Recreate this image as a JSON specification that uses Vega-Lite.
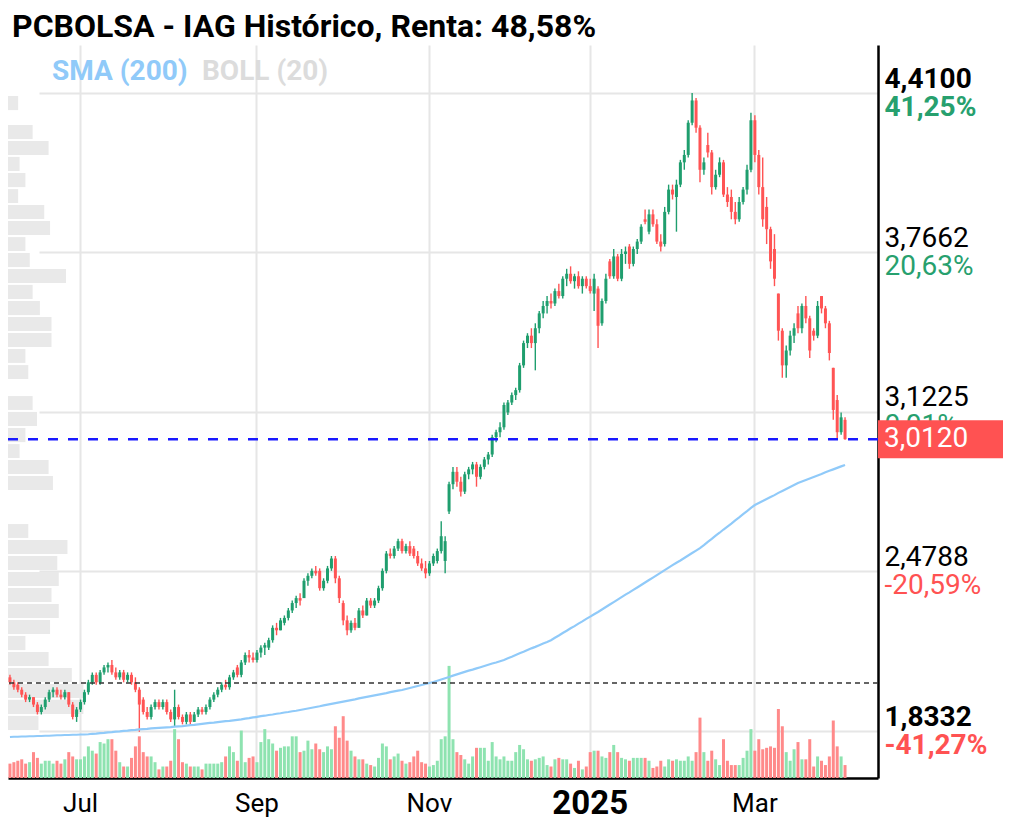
{
"$schema": "https://vega.github.io/schema/vega-lite/v6.json",
"width": 870,
"height": 733,
"autosize": {"type": "none"},
"padding": {"left": 8, "top": 45, "right": 142, "bottom": 55},
"background": "white",
"title": {"text": "PCBOLSA - IAG Histórico, Renta: 48,58%", "anchor": "start", "frame": "group", "font": "Roboto", "fontSize": 32, "fontWeight": "bold", "color": "#000000", "offset": 1, "dx": 4},
"config": {"view": {"stroke": null}, "font": "Roboto", "axis": {"labelFont": "Roboto"}},
"datasets": {
"ohlc": [
{"d":"2024-06-05","o":2.05,"h":2.06,"l":2.02,"c":2.03,"v":10,"s":1.809},
{"d":"2024-06-06","o":2.03,"h":2.04,"l":2.00,"c":2.01,"v":11,"s":1.810},
{"d":"2024-06-07","o":2.02,"h":2.03,"l":1.99,"c":2.00,"v":12,"s":1.810},
{"d":"2024-06-10","o":2.00,"h":2.01,"l":1.97,"c":1.98,"v":13,"s":1.811},
{"d":"2024-06-11","o":1.98,"h":1.99,"l":1.95,"c":1.96,"v":10,"s":1.811},
{"d":"2024-06-12","o":1.96,"h":1.98,"l":1.95,"c":1.97,"v":11,"s":1.812},
{"d":"2024-06-13","o":1.97,"h":1.97,"l":1.93,"c":1.94,"v":18,"s":1.812},
{"d":"2024-06-14","o":1.94,"h":1.95,"l":1.90,"c":1.91,"v":14,"s":1.813},
{"d":"2024-06-17","o":1.91,"h":1.94,"l":1.90,"c":1.93,"v":10,"s":1.813},
{"d":"2024-06-18","o":1.93,"h":1.97,"l":1.92,"c":1.96,"v":12,"s":1.814},
{"d":"2024-06-19","o":1.96,"h":2.00,"l":1.95,"c":1.99,"v":12,"s":1.814},
{"d":"2024-06-20","o":1.99,"h":2.01,"l":1.97,"c":2.00,"v":10,"s":1.815},
{"d":"2024-06-21","o":2.00,"h":2.01,"l":1.97,"c":1.98,"v":12,"s":1.816},
{"d":"2024-06-24","o":1.98,"h":2.00,"l":1.96,"c":1.97,"v":10,"s":1.816},
{"d":"2024-06-25","o":1.97,"h":2.00,"l":1.96,"c":1.99,"v":13,"s":1.817},
{"d":"2024-06-26","o":1.99,"h":1.99,"l":1.93,"c":1.94,"v":18,"s":1.817},
{"d":"2024-06-27","o":1.94,"h":1.95,"l":1.88,"c":1.89,"v":15,"s":1.818},
{"d":"2024-06-28","o":1.89,"h":1.93,"l":1.87,"c":1.92,"v":13,"s":1.818},
{"d":"2024-07-01","o":1.92,"h":1.96,"l":1.91,"c":1.95,"v":13,"s":1.819},
{"d":"2024-07-02","o":1.95,"h":2.00,"l":1.94,"c":1.99,"v":15,"s":1.819},
{"d":"2024-07-03","o":1.99,"h":2.04,"l":1.98,"c":2.03,"v":22,"s":1.820},
{"d":"2024-07-04","o":2.03,"h":2.07,"l":2.02,"c":2.06,"v":19,"s":1.822},
{"d":"2024-07-05","o":2.06,"h":2.07,"l":2.02,"c":2.03,"v":17,"s":1.823},
{"d":"2024-07-08","o":2.03,"h":2.08,"l":2.02,"c":2.07,"v":25,"s":1.825},
{"d":"2024-07-09","o":2.07,"h":2.10,"l":2.06,"c":2.09,"v":24,"s":1.826},
{"d":"2024-07-10","o":2.09,"h":2.11,"l":2.07,"c":2.10,"v":27,"s":1.828},
{"d":"2024-07-11","o":2.10,"h":2.12,"l":2.06,"c":2.07,"v":27,"s":1.829},
{"d":"2024-07-12","o":2.07,"h":2.09,"l":2.04,"c":2.05,"v":19,"s":1.831},
{"d":"2024-07-15","o":2.05,"h":2.08,"l":2.04,"c":2.07,"v":11,"s":1.832},
{"d":"2024-07-16","o":2.07,"h":2.08,"l":2.03,"c":2.04,"v":8,"s":1.834},
{"d":"2024-07-17","o":2.04,"h":2.07,"l":2.03,"c":2.06,"v":8,"s":1.835},
{"d":"2024-07-18","o":2.06,"h":2.07,"l":2.02,"c":2.03,"v":14,"s":1.837},
{"d":"2024-07-19","o":2.03,"h":2.05,"l":1.99,"c":2.00,"v":22,"s":1.838},
{"d":"2024-07-22","o":2.00,"h":2.01,"l":1.83,"c":1.94,"v":29,"s":1.840},
{"d":"2024-07-23","o":1.96,"h":1.97,"l":1.90,"c":1.91,"v":18,"s":1.841},
{"d":"2024-07-24","o":1.91,"h":1.93,"l":1.88,"c":1.89,"v":15,"s":1.842},
{"d":"2024-07-25","o":1.89,"h":1.94,"l":1.88,"c":1.93,"v":15,"s":1.844},
{"d":"2024-07-26","o":1.93,"h":1.96,"l":1.92,"c":1.95,"v":11,"s":1.845},
{"d":"2024-07-29","o":1.95,"h":1.96,"l":1.92,"c":1.93,"v":6,"s":1.846},
{"d":"2024-07-30","o":1.93,"h":1.96,"l":1.92,"c":1.95,"v":8,"s":1.847},
{"d":"2024-07-31","o":1.95,"h":1.96,"l":1.90,"c":1.91,"v":8,"s":1.848},
{"d":"2024-08-01","o":1.91,"h":1.92,"l":1.87,"c":1.88,"v":12,"s":1.849},
{"d":"2024-08-02","o":1.88,"h":2.00,"l":1.85,"c":1.93,"v":34,"s":1.851},
{"d":"2024-08-05","o":1.93,"h":1.94,"l":1.88,"c":1.89,"v":27,"s":1.852},
{"d":"2024-08-06","o":1.89,"h":1.90,"l":1.86,"c":1.87,"v":11,"s":1.853},
{"d":"2024-08-07","o":1.87,"h":1.91,"l":1.86,"c":1.90,"v":10,"s":1.855},
{"d":"2024-08-08","o":1.90,"h":1.91,"l":1.86,"c":1.87,"v":8,"s":1.857},
{"d":"2024-08-09","o":1.87,"h":1.91,"l":1.87,"c":1.90,"v":8,"s":1.858},
{"d":"2024-08-12","o":1.90,"h":1.93,"l":1.89,"c":1.92,"v":8,"s":1.860},
{"d":"2024-08-13","o":1.92,"h":1.93,"l":1.90,"c":1.91,"v":6,"s":1.862},
{"d":"2024-08-14","o":1.91,"h":1.94,"l":1.90,"c":1.93,"v":10,"s":1.864},
{"d":"2024-08-15","o":1.93,"h":1.97,"l":1.92,"c":1.96,"v":10,"s":1.866},
{"d":"2024-08-16","o":1.96,"h":1.99,"l":1.95,"c":1.98,"v":10,"s":1.867},
{"d":"2024-08-19","o":1.98,"h":2.01,"l":1.97,"c":2.00,"v":10,"s":1.869},
{"d":"2024-08-20","o":2.00,"h":2.03,"l":1.99,"c":2.02,"v":11,"s":1.871},
{"d":"2024-08-21","o":2.02,"h":2.04,"l":2.00,"c":2.01,"v":15,"s":1.873},
{"d":"2024-08-22","o":2.01,"h":2.06,"l":2.00,"c":2.05,"v":22,"s":1.874},
{"d":"2024-08-23","o":2.05,"h":2.08,"l":2.04,"c":2.07,"v":18,"s":1.876},
{"d":"2024-08-26","o":2.09,"h":2.10,"l":2.05,"c":2.06,"v":12,"s":1.878},
{"d":"2024-08-27","o":2.06,"h":2.12,"l":2.05,"c":2.11,"v":33,"s":1.880},
{"d":"2024-08-28","o":2.11,"h":2.15,"l":2.10,"c":2.14,"v":11,"s":1.883},
{"d":"2024-08-29","o":2.14,"h":2.16,"l":2.11,"c":2.13,"v":14,"s":1.885},
{"d":"2024-08-30","o":2.13,"h":2.15,"l":2.11,"c":2.12,"v":15,"s":1.888},
{"d":"2024-09-02","o":2.12,"h":2.16,"l":2.11,"c":2.15,"v":11,"s":1.890},
{"d":"2024-09-03","o":2.15,"h":2.18,"l":2.13,"c":2.17,"v":25,"s":1.893},
{"d":"2024-09-04","o":2.17,"h":2.19,"l":2.14,"c":2.18,"v":34,"s":1.895},
{"d":"2024-09-05","o":2.17,"h":2.21,"l":2.16,"c":2.20,"v":27,"s":1.898},
{"d":"2024-09-06","o":2.20,"h":2.26,"l":2.19,"c":2.25,"v":24,"s":1.900},
{"d":"2024-09-09","o":2.25,"h":2.27,"l":2.22,"c":2.24,"v":19,"s":1.903},
{"d":"2024-09-10","o":2.24,"h":2.29,"l":2.24,"c":2.28,"v":21,"s":1.905},
{"d":"2024-09-11","o":2.27,"h":2.30,"l":2.26,"c":2.29,"v":22,"s":1.908},
{"d":"2024-09-12","o":2.29,"h":2.33,"l":2.28,"c":2.32,"v":22,"s":1.910},
{"d":"2024-09-13","o":2.32,"h":2.36,"l":2.31,"c":2.35,"v":29,"s":1.913},
{"d":"2024-09-16","o":2.35,"h":2.38,"l":2.33,"c":2.37,"v":29,"s":1.915},
{"d":"2024-09-17","o":2.37,"h":2.39,"l":2.34,"c":2.36,"v":18,"s":1.918},
{"d":"2024-09-18","o":2.37,"h":2.45,"l":2.37,"c":2.44,"v":19,"s":1.921},
{"d":"2024-09-19","o":2.44,"h":2.47,"l":2.42,"c":2.46,"v":26,"s":1.924},
{"d":"2024-09-20","o":2.46,"h":2.49,"l":2.45,"c":2.48,"v":20,"s":1.927},
{"d":"2024-09-23","o":2.48,"h":2.50,"l":2.46,"c":2.47,"v":24,"s":1.930},
{"d":"2024-09-24","o":2.48,"h":2.49,"l":2.40,"c":2.41,"v":20,"s":1.933},
{"d":"2024-09-25","o":2.41,"h":2.45,"l":2.40,"c":2.44,"v":18,"s":1.937},
{"d":"2024-09-26","o":2.44,"h":2.50,"l":2.43,"c":2.49,"v":22,"s":1.940},
{"d":"2024-09-27","o":2.49,"h":2.54,"l":2.48,"c":2.53,"v":20,"s":1.943},
{"d":"2024-09-30","o":2.53,"h":2.54,"l":2.43,"c":2.45,"v":36,"s":1.946},
{"d":"2024-10-01","o":2.45,"h":2.46,"l":2.35,"c":2.37,"v":28,"s":1.949},
{"d":"2024-10-02","o":2.35,"h":2.36,"l":2.26,"c":2.28,"v":43,"s":1.952},
{"d":"2024-10-03","o":2.28,"h":2.30,"l":2.22,"c":2.24,"v":26,"s":1.955},
{"d":"2024-10-04","o":2.24,"h":2.28,"l":2.23,"c":2.27,"v":19,"s":1.958},
{"d":"2024-10-07","o":2.27,"h":2.29,"l":2.24,"c":2.25,"v":15,"s":1.961},
{"d":"2024-10-08","o":2.25,"h":2.33,"l":2.25,"c":2.32,"v":13,"s":1.965},
{"d":"2024-10-09","o":2.32,"h":2.34,"l":2.29,"c":2.30,"v":13,"s":1.968},
{"d":"2024-10-10","o":2.30,"h":2.37,"l":2.30,"c":2.36,"v":10,"s":1.971},
{"d":"2024-10-11","o":2.36,"h":2.37,"l":2.33,"c":2.34,"v":9,"s":1.974},
{"d":"2024-10-14","o":2.34,"h":2.37,"l":2.33,"c":2.36,"v":8,"s":1.977},
{"d":"2024-10-15","o":2.36,"h":2.42,"l":2.35,"c":2.41,"v":14,"s":1.980},
{"d":"2024-10-16","o":2.41,"h":2.49,"l":2.40,"c":2.48,"v":24,"s":1.983},
{"d":"2024-10-17","o":2.48,"h":2.56,"l":2.47,"c":2.55,"v":22,"s":1.986},
{"d":"2024-10-18","o":2.55,"h":2.57,"l":2.53,"c":2.54,"v":13,"s":1.990},
{"d":"2024-10-21","o":2.54,"h":2.58,"l":2.53,"c":2.57,"v":15,"s":1.993},
{"d":"2024-10-22","o":2.57,"h":2.61,"l":2.56,"c":2.60,"v":17,"s":1.996},
{"d":"2024-10-23","o":2.60,"h":2.61,"l":2.55,"c":2.56,"v":12,"s":1.999},
{"d":"2024-10-24","o":2.56,"h":2.59,"l":2.55,"c":2.58,"v":10,"s":2.003},
{"d":"2024-10-25","o":2.58,"h":2.60,"l":2.54,"c":2.55,"v":11,"s":2.007},
{"d":"2024-10-28","o":2.57,"h":2.58,"l":2.53,"c":2.54,"v":15,"s":2.011},
{"d":"2024-10-29","o":2.54,"h":2.56,"l":2.50,"c":2.51,"v":19,"s":2.015},
{"d":"2024-10-30","o":2.51,"h":2.53,"l":2.48,"c":2.49,"v":11,"s":2.019},
{"d":"2024-10-31","o":2.49,"h":2.52,"l":2.45,"c":2.47,"v":10,"s":2.023},
{"d":"2024-11-01","o":2.47,"h":2.52,"l":2.46,"c":2.51,"v":8,"s":2.027},
{"d":"2024-11-04","o":2.51,"h":2.55,"l":2.50,"c":2.54,"v":9,"s":2.031},
{"d":"2024-11-05","o":2.52,"h":2.57,"l":2.51,"c":2.56,"v":12,"s":2.036},
{"d":"2024-11-06","o":2.56,"h":2.68,"l":2.55,"c":2.62,"v":27,"s":2.041},
{"d":"2024-11-07","o":2.52,"h":2.62,"l":2.47,"c":2.60,"v":29,"s":2.046},
{"d":"2024-11-08","o":2.72,"h":2.84,"l":2.71,"c":2.83,"v":78,"s":2.051},
{"d":"2024-11-11","o":2.83,"h":2.90,"l":2.81,"c":2.88,"v":27,"s":2.057},
{"d":"2024-11-12","o":2.88,"h":2.90,"l":2.82,"c":2.84,"v":18,"s":2.062},
{"d":"2024-11-13","o":2.84,"h":2.86,"l":2.78,"c":2.80,"v":16,"s":2.067},
{"d":"2024-11-14","o":2.80,"h":2.88,"l":2.79,"c":2.87,"v":13,"s":2.072},
{"d":"2024-11-15","o":2.87,"h":2.90,"l":2.85,"c":2.89,"v":10,"s":2.077},
{"d":"2024-11-18","o":2.89,"h":2.92,"l":2.87,"c":2.91,"v":15,"s":2.081},
{"d":"2024-11-19","o":2.91,"h":2.92,"l":2.82,"c":2.86,"v":21,"s":2.086},
{"d":"2024-11-20","o":2.86,"h":2.91,"l":2.85,"c":2.90,"v":21,"s":2.091},
{"d":"2024-11-21","o":2.90,"h":2.94,"l":2.89,"c":2.93,"v":21,"s":2.096},
{"d":"2024-11-22","o":2.93,"h":2.96,"l":2.91,"c":2.95,"v":12,"s":2.101},
{"d":"2024-11-25","o":2.95,"h":3.03,"l":2.94,"c":3.02,"v":25,"s":2.106},
{"d":"2024-11-26","o":3.02,"h":3.05,"l":3.00,"c":3.04,"v":15,"s":2.110},
{"d":"2024-11-27","o":3.04,"h":3.08,"l":3.02,"c":3.06,"v":13,"s":2.115},
{"d":"2024-11-28","o":3.06,"h":3.16,"l":3.05,"c":3.15,"v":15,"s":2.120},
{"d":"2024-11-29","o":3.12,"h":3.17,"l":3.11,"c":3.16,"v":12,"s":2.127},
{"d":"2024-12-02","o":3.16,"h":3.20,"l":3.15,"c":3.19,"v":12,"s":2.133},
{"d":"2024-12-03","o":3.19,"h":3.22,"l":3.17,"c":3.21,"v":18,"s":2.140},
{"d":"2024-12-04","o":3.21,"h":3.32,"l":3.20,"c":3.31,"v":23,"s":2.147},
{"d":"2024-12-05","o":3.31,"h":3.41,"l":3.30,"c":3.40,"v":20,"s":2.153},
{"d":"2024-12-06","o":3.40,"h":3.44,"l":3.38,"c":3.43,"v":13,"s":2.160},
{"d":"2024-12-09","o":3.43,"h":3.46,"l":3.38,"c":3.40,"v":12,"s":2.167},
{"d":"2024-12-10","o":3.40,"h":3.48,"l":3.29,"c":3.46,"v":13,"s":2.173},
{"d":"2024-12-11","o":3.46,"h":3.53,"l":3.44,"c":3.52,"v":14,"s":2.180},
{"d":"2024-12-12","o":3.52,"h":3.57,"l":3.50,"c":3.55,"v":15,"s":2.187},
{"d":"2024-12-13","o":3.55,"h":3.59,"l":3.52,"c":3.57,"v":9,"s":2.193},
{"d":"2024-12-16","o":3.57,"h":3.60,"l":3.54,"c":3.56,"v":8,"s":2.200},
{"d":"2024-12-17","o":3.56,"h":3.62,"l":3.55,"c":3.61,"v":13,"s":2.210},
{"d":"2024-12-18","o":3.61,"h":3.64,"l":3.58,"c":3.59,"v":14,"s":2.219},
{"d":"2024-12-19","o":3.59,"h":3.67,"l":3.58,"c":3.66,"v":13,"s":2.229},
{"d":"2024-12-20","o":3.66,"h":3.70,"l":3.63,"c":3.68,"v":13,"s":2.238},
{"d":"2024-12-23","o":3.68,"h":3.71,"l":3.64,"c":3.65,"v":10,"s":2.248},
{"d":"2024-12-24","o":3.65,"h":3.68,"l":3.62,"c":3.67,"v":7,"s":2.257},
{"d":"2024-12-27","o":3.67,"h":3.69,"l":3.62,"c":3.63,"v":12,"s":2.267},
{"d":"2024-12-30","o":3.63,"h":3.67,"l":3.60,"c":3.66,"v":6,"s":2.276},
{"d":"2024-12-31","o":3.66,"h":3.67,"l":3.62,"c":3.63,"v":8,"s":2.286},
{"d":"2025-01-02","o":3.63,"h":3.66,"l":3.60,"c":3.61,"v":18,"s":2.295},
{"d":"2025-01-03","o":3.60,"h":3.68,"l":3.53,"c":3.66,"v":19,"s":2.305},
{"d":"2025-01-06","o":3.62,"h":3.63,"l":3.38,"c":3.47,"v":19,"s":2.314},
{"d":"2025-01-07","o":3.48,"h":3.58,"l":3.47,"c":3.57,"v":15,"s":2.324},
{"d":"2025-01-08","o":3.57,"h":3.68,"l":3.56,"c":3.66,"v":14,"s":2.334},
{"d":"2025-01-09","o":3.73,"h":3.74,"l":3.66,"c":3.67,"v":18,"s":2.344},
{"d":"2025-01-10","o":3.67,"h":3.78,"l":3.66,"c":3.75,"v":23,"s":2.354},
{"d":"2025-01-13","o":3.75,"h":3.76,"l":3.65,"c":3.66,"v":18,"s":2.364},
{"d":"2025-01-14","o":3.66,"h":3.78,"l":3.65,"c":3.76,"v":14,"s":2.374},
{"d":"2025-01-15","o":3.76,"h":3.79,"l":3.72,"c":3.77,"v":13,"s":2.384},
{"d":"2025-01-16","o":3.79,"h":3.80,"l":3.70,"c":3.72,"v":12,"s":2.393},
{"d":"2025-01-17","o":3.72,"h":3.79,"l":3.71,"c":3.78,"v":14,"s":2.403},
{"d":"2025-01-20","o":3.78,"h":3.82,"l":3.76,"c":3.81,"v":14,"s":2.413},
{"d":"2025-01-21","o":3.81,"h":3.88,"l":3.80,"c":3.87,"v":14,"s":2.423},
{"d":"2025-01-22","o":3.90,"h":3.94,"l":3.88,"c":3.89,"v":14,"s":2.433},
{"d":"2025-01-23","o":3.85,"h":3.94,"l":3.84,"c":3.92,"v":12,"s":2.443},
{"d":"2025-01-24","o":3.92,"h":3.94,"l":3.87,"c":3.88,"v":7,"s":2.453},
{"d":"2025-01-27","o":3.88,"h":3.90,"l":3.80,"c":3.81,"v":8,"s":2.463},
{"d":"2025-01-28","o":3.81,"h":3.84,"l":3.77,"c":3.79,"v":12,"s":2.473},
{"d":"2025-01-29","o":3.80,"h":3.95,"l":3.79,"c":3.93,"v":8,"s":2.483},
{"d":"2025-01-30","o":3.93,"h":4.04,"l":3.92,"c":4.02,"v":13,"s":2.493},
{"d":"2025-01-31","o":4.02,"h":4.04,"l":3.98,"c":4.00,"v":12,"s":2.503},
{"d":"2025-02-03","o":3.99,"h":4.06,"l":3.85,"c":4.04,"v":13,"s":2.513},
{"d":"2025-02-04","o":4.04,"h":4.14,"l":4.03,"c":4.13,"v":12,"s":2.522},
{"d":"2025-02-05","o":4.13,"h":4.18,"l":4.10,"c":4.16,"v":12,"s":2.532},
{"d":"2025-02-06","o":4.16,"h":4.30,"l":4.15,"c":4.29,"v":15,"s":2.542},
{"d":"2025-02-07","o":4.29,"h":4.41,"l":4.28,"c":4.38,"v":12,"s":2.552},
{"d":"2025-02-10","o":4.38,"h":4.39,"l":4.25,"c":4.27,"v":18,"s":2.562},
{"d":"2025-02-11","o":4.27,"h":4.28,"l":4.05,"c":4.10,"v":42,"s":2.572},
{"d":"2025-02-12","o":4.10,"h":4.15,"l":4.08,"c":4.13,"v":18,"s":2.584},
{"d":"2025-02-13","o":4.20,"h":4.25,"l":4.15,"c":4.17,"v":12,"s":2.597},
{"d":"2025-02-14","o":4.17,"h":4.18,"l":4.00,"c":4.03,"v":19,"s":2.609},
{"d":"2025-02-17","o":4.03,"h":4.10,"l":4.02,"c":4.08,"v":13,"s":2.622},
{"d":"2025-02-18","o":4.08,"h":4.15,"l":4.07,"c":4.13,"v":9,"s":2.634},
{"d":"2025-02-19","o":4.13,"h":4.14,"l":3.99,"c":4.00,"v":27,"s":2.647},
{"d":"2025-02-20","o":4.00,"h":4.03,"l":3.95,"c":3.97,"v":12,"s":2.659},
{"d":"2025-02-21","o":3.99,"h":4.02,"l":3.90,"c":3.93,"v":9,"s":2.671},
{"d":"2025-02-24","o":3.93,"h":3.97,"l":3.88,"c":3.90,"v":9,"s":2.684},
{"d":"2025-02-25","o":3.90,"h":3.99,"l":3.89,"c":3.97,"v":9,"s":2.696},
{"d":"2025-02-26","o":3.97,"h":4.03,"l":3.96,"c":4.02,"v":14,"s":2.709},
{"d":"2025-02-27","o":4.02,"h":4.12,"l":4.00,"c":4.10,"v":19,"s":2.721},
{"d":"2025-02-28","o":4.10,"h":4.33,"l":4.09,"c":4.30,"v":34,"s":2.734},
{"d":"2025-03-03","o":4.30,"h":4.32,"l":4.13,"c":4.16,"v":19,"s":2.746},
{"d":"2025-03-04","o":4.16,"h":4.18,"l":4.00,"c":4.03,"v":27,"s":2.754},
{"d":"2025-03-05","o":4.03,"h":4.15,"l":3.87,"c":3.90,"v":20,"s":2.762},
{"d":"2025-03-06","o":3.95,"h":3.99,"l":3.80,"c":3.86,"v":21,"s":2.770},
{"d":"2025-03-07","o":3.86,"h":3.87,"l":3.70,"c":3.73,"v":22,"s":2.778},
{"d":"2025-03-10","o":3.78,"h":3.84,"l":3.63,"c":3.66,"v":21,"s":2.786},
{"d":"2025-03-11","o":3.60,"h":3.60,"l":3.41,"c":3.45,"v":48,"s":2.795},
{"d":"2025-03-12","o":3.45,"h":3.46,"l":3.26,"c":3.31,"v":36,"s":2.803},
{"d":"2025-03-13","o":3.31,"h":3.39,"l":3.26,"c":3.37,"v":18,"s":2.811},
{"d":"2025-03-14","o":3.37,"h":3.45,"l":3.35,"c":3.43,"v":12,"s":2.819},
{"d":"2025-03-17","o":3.43,"h":3.48,"l":3.40,"c":3.46,"v":20,"s":2.827},
{"d":"2025-03-18","o":3.52,"h":3.55,"l":3.44,"c":3.46,"v":25,"s":2.835},
{"d":"2025-03-19","o":3.46,"h":3.56,"l":3.44,"c":3.55,"v":13,"s":2.841},
{"d":"2025-03-20","o":3.55,"h":3.59,"l":3.48,"c":3.50,"v":13,"s":2.847},
{"d":"2025-03-21","o":3.50,"h":3.51,"l":3.34,"c":3.37,"v":27,"s":2.853},
{"d":"2025-03-24","o":3.45,"h":3.46,"l":3.41,"c":3.43,"v":8,"s":2.859},
{"d":"2025-03-25","o":3.43,"h":3.57,"l":3.42,"c":3.55,"v":15,"s":2.865},
{"d":"2025-03-26","o":3.59,"h":3.59,"l":3.52,"c":3.54,"v":12,"s":2.871},
{"d":"2025-03-27","o":3.54,"h":3.55,"l":3.46,"c":3.48,"v":9,"s":2.878},
{"d":"2025-03-28","o":3.48,"h":3.49,"l":3.33,"c":3.36,"v":15,"s":2.884},
{"d":"2025-03-31","o":3.30,"h":3.30,"l":3.09,"c":3.13,"v":40,"s":2.890},
{"d":"2025-04-01","o":3.17,"h":3.19,"l":3.01,"c":3.04,"v":22,"s":2.896},
{"d":"2025-04-02","o":3.04,"h":3.12,"l":3.03,"c":3.10,"v":15,"s":2.902},
{"d":"2025-04-03","o":3.09,"h":3.10,"l":3.01,"c":3.012,"v":9,"s":2.908}
],
"profile": [
{"lo":4.341,"hi":4.398,"vol":7},
{"lo":4.224,"hi":4.281,"vol":17},
{"lo":4.160,"hi":4.216,"vol":28},
{"lo":4.095,"hi":4.152,"vol":8},
{"lo":4.030,"hi":4.087,"vol":12},
{"lo":3.966,"hi":4.022,"vol":7},
{"lo":3.901,"hi":3.958,"vol":25},
{"lo":3.837,"hi":3.893,"vol":29},
{"lo":3.772,"hi":3.828,"vol":12},
{"lo":3.707,"hi":3.764,"vol":15},
{"lo":3.643,"hi":3.699,"vol":40},
{"lo":3.578,"hi":3.635,"vol":17},
{"lo":3.513,"hi":3.570,"vol":22},
{"lo":3.449,"hi":3.505,"vol":30},
{"lo":3.384,"hi":3.441,"vol":30},
{"lo":3.320,"hi":3.376,"vol":12},
{"lo":3.255,"hi":3.311,"vol":14},
{"lo":3.130,"hi":3.186,"vol":17},
{"lo":3.065,"hi":3.122,"vol":20},
{"lo":3.000,"hi":3.057,"vol":12},
{"lo":2.936,"hi":2.992,"vol":8},
{"lo":2.871,"hi":2.928,"vol":28},
{"lo":2.807,"hi":2.863,"vol":31},
{"lo":2.613,"hi":2.669,"vol":14},
{"lo":2.548,"hi":2.605,"vol":41},
{"lo":2.484,"hi":2.540,"vol":34},
{"lo":2.419,"hi":2.475,"vol":35},
{"lo":2.354,"hi":2.411,"vol":30},
{"lo":2.290,"hi":2.346,"vol":35},
{"lo":2.225,"hi":2.282,"vol":29},
{"lo":2.160,"hi":2.217,"vol":12},
{"lo":2.096,"hi":2.152,"vol":28},
{"lo":2.031,"hi":2.088,"vol":44},
{"lo":1.967,"hi":2.023,"vol":52},
{"lo":1.902,"hi":1.959,"vol":52},
{"lo":1.837,"hi":1.894,"vol":21}
]
},
"resolve": {"scale": {"x": "independent", "y": "independent"}, "axis": {"x": "independent", "y": "independent"}},
"layer": [
{
"data": {"name": "profile"},
"mark": {"type": "rect", "color": "#e9e9e9"},
"encoding": {
"x": {"field": "vol", "type": "quantitative", "scale": {"domain": [0, 600], "nice": false}, "axis": {"orient": "bottom", "title": null, "labels": false, "ticks": false, "grid": false, "domain": true, "domainColor": "#000000", "domainWidth": 2.5}},
"y": {"field": "lo", "type": "quantitative", "scale": {"domain": [1.6434, 4.604], "nice": false, "zero": false}, "axis": null},
"y2": {"field": "hi"}
}
},
{
"data": {"name": "ohlc"},
"mark": {"type": "bar", "width": 3},
"encoding": {
"x": {"field": "d", "type": "ordinal", "scale": {"range": [0, 839], "paddingInner": 0, "paddingOuter": 0}, "axis": null},
"y": {"field": "v", "type": "quantitative", "scale": {"domain": [0, 510], "nice": false}, "axis": null},
"color": {"condition": {"test": "datum.c >= datum.o", "value": "#8ee3b0"}, "value": "#ff8a8a"}
}
},
{
"data": {"name": "ohlc"},
"resolve": {"axis": {"y": "independent"}},
"layer": [
{
"mark": {"type": "rule", "strokeWidth": 1.4},
"encoding": {
"x": {"field": "d", "type": "ordinal", "scale": {"range": [0, 839], "paddingInner": 0, "paddingOuter": 0},
"axis": {"orient": "bottom", "values": ["2024-07-01", "2024-09-02", "2024-11-01", "2025-01-02", "2025-03-03"], "title": null, "grid": true, "gridColor": "#e6e6e6", "gridWidth": 2, "bandPosition": 0.5, "ticks": false, "tickSize": 0, "domain": false, "labelAngle": 0, "labelBaseline": "middle", "labelPadding": 25, "labelColor": "#000000", "labelFont": "Roboto",
"labelExpr": "datum.value == '2024-07-01' ? 'Jul' : datum.value == '2024-09-02' ? 'Sep' : datum.value == '2024-11-01' ? 'Nov' : datum.value == '2025-01-02' ? '2025' : 'Mar'",
"labelFontSize": {"condition": {"test": "datum.value == '2025-01-02'", "value": 33}, "value": 26},
"labelFontWeight": {"condition": {"test": "datum.value == '2025-01-02'", "value": "bold"}, "value": "normal"}}},
"y": {"field": "l", "type": "quantitative", "scale": {"domain": [1.6434, 4.604], "nice": false, "zero": false},
"axis": {"orient": "right", "values": [1.8332, 2.4788, 3.1225, 3.7662, 4.41], "title": null, "grid": true, "gridColor": "#e6e6e6", "gridWidth": 2, "ticks": false, "tickSize": 0, "domain": true, "domainColor": "#000000", "domainWidth": 2.5, "labelFont": "Roboto", "labelFontSize": 28, "labelColor": "#000000", "labelPadding": 6, "labelBaseline": "bottom", "labelAlign": "left", "labelOverlap": false, "labelBound": false, "labelFlush": false,
"labelExpr": "replace(format(datum.value, '.4f'), '.', ',')",
"labelFontWeight": {"condition": {"test": "datum.value > 4.4 || datum.value < 1.9", "value": "bold"}, "value": "normal"}}},
"y2": {"field": "h"},
"color": {"condition": {"test": "datum.c >= datum.o", "value": "#1f9e6e"}, "value": "#ff5454"}
}
},
{
"mark": {"type": "bar", "width": 3},
"encoding": {
"x": {"field": "d", "type": "ordinal"},
"y": {"field": "o", "type": "quantitative",
"axis": {"orient": "right", "values": [1.8332, 2.4788, 3.1225, 3.7662, 4.41], "title": null, "grid": false, "ticks": false, "tickSize": 0, "domain": false, "labelFont": "Roboto", "labelFontSize": 28, "labelPadding": 6, "labelBaseline": "top", "labelAlign": "left", "labelOverlap": false, "labelBound": false, "labelFlush": false,
"labelExpr": "datum.value > 4.4 ? '41,25%' : datum.value > 3.7 ? '20,63%' : datum.value > 3.1 ? '0,01%' : datum.value > 2.4 ? '-20,59%' : '-41,27%'",
"labelColor": {"condition": {"test": "datum.value > 3", "value": "#27a06e"}, "value": "#ff5252"},
"labelFontWeight": {"condition": {"test": "datum.value > 4.4 || datum.value < 1.9", "value": "bold"}, "value": "normal"}}},
"y2": {"field": "c"},
"color": {"condition": {"test": "datum.c >= datum.o", "value": "#1f9e6e"}, "value": "#ff5454"}
}
},
{
"mark": {"type": "line", "strokeWidth": 2.2},
"encoding": {
"x": {"field": "d", "type": "ordinal"},
"y": {"field": "s", "type": "quantitative", "axis": null},
"color": {"datum": "SMA (200)", "type": "nominal", "scale": {"domain": ["SMA (200)", "BOLL (20)"], "range": ["#90caf9", "#dcdcdc"]},
"legend": {"orient": "none", "legendX": 30, "legendY": 13, "direction": "horizontal", "title": null, "labelFont": "Roboto", "labelFontSize": 28, "labelFontWeight": "bold", "symbolSize": 0, "symbolStrokeWidth": 0, "symbolOpacity": 0, "labelOffset": -14, "columnPadding": 0, "labelLimit": 400, "padding": 0,
"encode": {"labels": {"update": {"fill": {"signal": "datum.value === 'SMA (200)' ? '#90caf9' : '#dcdcdc'"}}}}}}
}
},
{
"data": {"values": [{"p": 2.027}]},
"mark": {"type": "rule", "color": "#333333", "strokeDash": [5, 4], "strokeWidth": 1.6},
"encoding": {"y": {"field": "p", "type": "quantitative", "axis": null}}
},
{
"data": {"values": [{"p": 3.012}]},
"mark": {"type": "rule", "color": "#1a1aff", "strokeDash": [10, 10], "strokeWidth": 2.5},
"encoding": {"y": {"field": "p", "type": "quantitative", "axis": null}}
},
{
"data": {"values": [{"p": 3.012, "lbl": "3,0120"}]},
"mark": {"type": "rect", "color": "#ff5252", "width": 125, "height": 38, "align": "left", "baseline": "middle"},
"encoding": {"x": {"value": "width"}, "y": {"field": "p", "type": "quantitative", "axis": null}}
},
{
"data": {"values": [{"p": 3.012, "lbl": "3,0120"}]},
"mark": {"type": "text", "align": "left", "baseline": "middle", "dx": 6, "fontSize": 28, "font": "Roboto", "color": "#ffffff"},
"encoding": {"x": {"value": "width"}, "y": {"field": "p", "type": "quantitative", "axis": null}, "text": {"field": "lbl"}}
}
]
}
]
}
